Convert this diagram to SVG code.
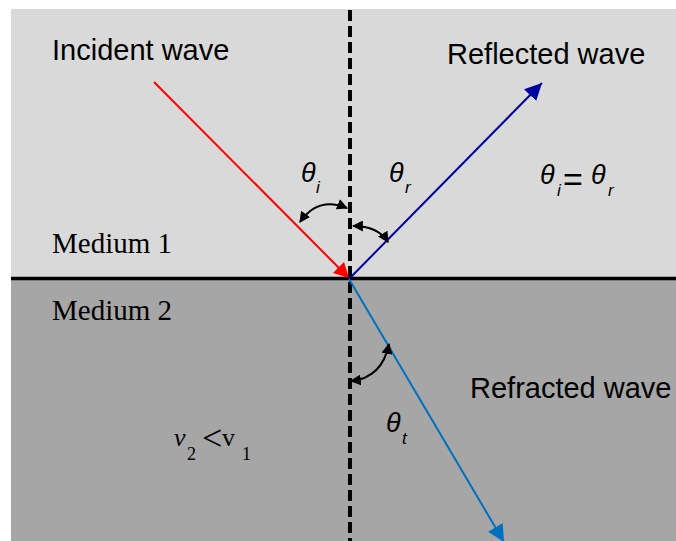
<svg xmlns="http://www.w3.org/2000/svg" width="676" height="541" viewBox="0 0 676 541">
<style>
.lbl{font-family:"Liberation Sans",Arial,sans-serif;font-size:29px;fill:#000}
.med{font-family:"Liberation Serif","Times New Roman",serif;font-size:29px;fill:#000}
.th{font-family:"Liberation Sans",Arial,sans-serif;font-style:italic;font-size:27px;fill:#000}
.sub{font-family:"Liberation Sans",Arial,sans-serif;font-style:italic;font-size:17px;fill:#000}
.tm{font-family:"Liberation Serif","Times New Roman",serif;font-size:26px;fill:#000}
.arc{fill:none;stroke:#000;stroke-width:2;marker-start:url(#ka);marker-end:url(#ka)}
</style>
<defs>
<marker id="ab" viewBox="0 0 10 10" refX="10" refY="5" markerWidth="17" markerHeight="17" markerUnits="userSpaceOnUse" orient="auto"><path d="M0,0 L10,5 L0,10 z" fill="#0000a0"/></marker>
<marker id="ac" viewBox="0 0 10 10" refX="10" refY="5" markerWidth="17" markerHeight="17" markerUnits="userSpaceOnUse" orient="auto"><path d="M0,0 L10,5 L0,10 z" fill="#0070c0"/></marker>
<marker id="ka" viewBox="0 0 10 10" refX="9" refY="5" markerWidth="11" markerHeight="11" markerUnits="userSpaceOnUse" orient="auto-start-reverse"><path d="M0,0 L10,5 L0,10 z" fill="#000"/></marker>
</defs>
<g id="background">
<rect x="11" y="9" width="665" height="270" fill="#d9d9d9"/>
<rect x="11" y="279" width="665" height="262" fill="#a6a6a6"/>
</g>
<g id="connectors">
<line x1="11" y1="278.5" x2="676" y2="278.5" stroke="#000" stroke-width="3.5"/>
<line x1="350" y1="10" x2="350" y2="541" stroke="#000" stroke-width="4" stroke-dasharray="11 5"/>
<line x1="154" y1="82" x2="340" y2="269" stroke="#ff0000" stroke-width="2"/>
<path d="M349,278 L333,273 L344,262 Z" fill="#ff0000"/>
<line x1="349" y1="279" x2="542" y2="83" stroke="#0000a0" stroke-width="2" marker-end="url(#ab)"/>
<line x1="349" y1="279" x2="504" y2="542" stroke="#0070c0" stroke-width="2" marker-end="url(#ac)"/>
<path class="arc" d="M300,222 Q318,196 347,208"/>
<path class="arc" d="M353,226 Q378,226 388,242"/>
<path class="arc" d="M389,344 Q382,378 351,381"/>
</g>
<g id="labels">
<text class="lbl" x="52" y="60">Incident wave</text>
<text class="lbl" x="447" y="64">Reflected wave</text>
<text class="lbl" x="470" y="398">Refracted wave</text>
<text class="med" x="52" y="253">Medium 1</text>
<text class="med" x="52" y="320">Medium 2</text>
<text class="th" x="301" y="182">θ<tspan class="sub" x="316" y="193">i</tspan></text>
<text class="th" x="389" y="182">θ<tspan class="sub" x="405" y="193">r</tspan></text>
<text class="th" x="540" y="184">θ<tspan class="sub" x="557" y="196">i</tspan><tspan x="563" y="191" font-style="normal" font-size="34">=</tspan><tspan x="591" y="184">θ</tspan><tspan class="sub" x="608" y="196">r</tspan></text>
<text class="th" x="386" y="432">θ<tspan class="sub" x="402" y="444">t</tspan></text>
<text class="tm" x="174" y="446"><tspan font-style="italic">v</tspan><tspan font-size="18" x="187" y="460">2</tspan><tspan x="202" y="450" font-size="36">&lt;</tspan><tspan x="222" y="446">v</tspan><tspan font-size="18" x="242" y="460">1</tspan></text>
</g>
</svg>
